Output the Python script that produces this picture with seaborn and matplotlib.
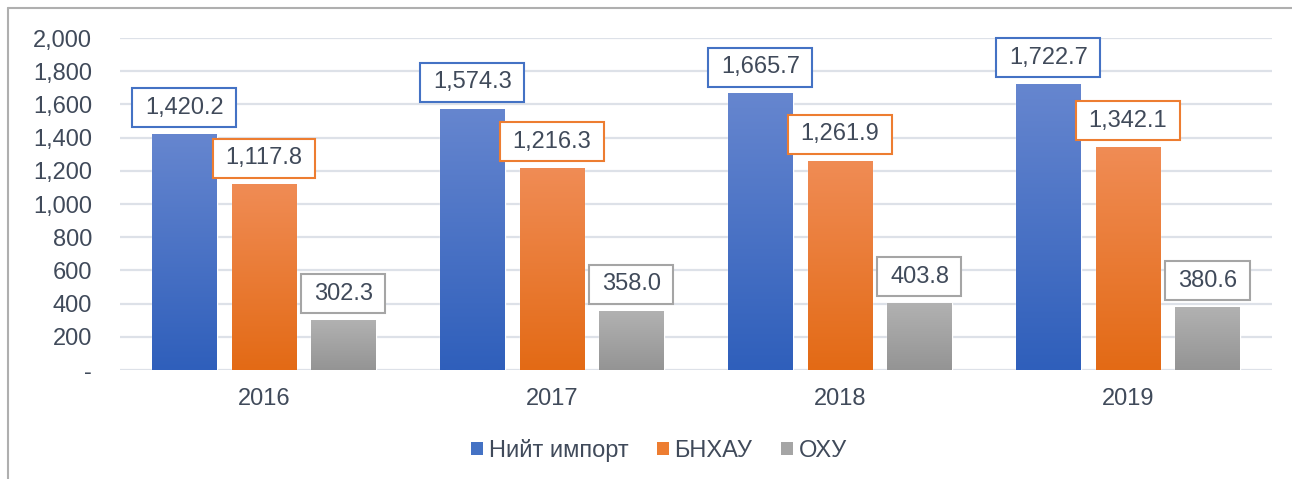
import numpy as np
import pandas as pd
import matplotlib
matplotlib.use("Agg")
import matplotlib.pyplot as plt
from matplotlib.path import Path
from matplotlib.lines import Line2D
from matplotlib.patches import Patch
from matplotlib.colors import LinearSegmentedColormap
import seaborn as sns

# Data
years = ["2016", "2017", "2018", "2019"]
series = ["Нийт импорт", "БНХАУ", "ОХУ"]
total_import = [1420.2, 1574.3, 1665.7, 1722.7]
china = [1117.8, 1216.3, 1261.9, 1342.1]
russia = [302.3, 358.0, 403.8, 380.6]

base_colors = ["#4472C4", "#ED7D31", "#A5A5A5"]
grad_top = ["#6686CF", "#F08C55", "#B2B2B2"]
grad_bot = ["#2F5FBB", "#E36A15", "#949494"]
text_color = "#404A5A"
fs = 17

df = pd.DataFrame({
    "Он": years * 3,
    "Цуврал": [s for s in series for _ in years],
    "Утга": total_import + china + russia,
})

sns.set_theme(style="white")
plt.rcParams["font.family"] = ["Liberation Sans", "DejaVu Sans"]

fig = plt.figure(figsize=(12.92, 4.79), dpi=100)
ax = fig.add_axes([120 / 1292, 1 - 370 / 479, 1152 / 1292, 332 / 479])

sns.barplot(data=df, x="Он", y="Утга", hue="Цуврал", palette=base_colors,
            width=0.83, gap=0.19, ax=ax, legend=False, zorder=3)

ax.set_yticks(np.arange(0, 2001, 200))
ax.yaxis.set_major_formatter(
    plt.FuncFormatter(lambda v, p: "-" if v == 0 else f"{v:,.0f}"))
ax.grid(axis="y", color="#DDE1E8", linewidth=1.6, zorder=0)
ax.set_axisbelow(True)
for sp in ax.spines.values():
    sp.set_visible(False)
ax.tick_params(axis="y", length=0, pad=20, labelsize=fs, labelcolor=text_color)
ax.tick_params(axis="x", length=0, pad=13, labelsize=fs, labelcolor=text_color)
ax.set_xlabel("")
ax.set_ylabel("")


# box with separate horizontal/vertical pads
def label_box(x0, y0, width, height, mutation_size):
    l, r, v = 0.55 * mutation_size, 0.52 * mutation_size, 0.36 * mutation_size
    x1, y1 = x0 - l, y0 - v
    x2, y2 = x0 + width + r, y0 + height + v
    return Path([(x1, y1), (x2, y1), (x2, y2), (x1, y2), (x1, y1)], closed=True)


# gradient fill + labels
grad = np.linspace(1, 0, 256).reshape(-1, 1)
for i, cont in enumerate(ax.containers):
    cmap = LinearSegmentedColormap.from_list("g", [grad_bot[i], grad_top[i]])
    for bar in cont:
        x0, y0 = bar.get_x(), bar.get_y()
        w, h = bar.get_width(), bar.get_height()
        im = ax.imshow(grad, cmap=cmap, extent=[x0, x0 + w, y0, y0 + h],
                       aspect="auto", zorder=4, vmin=0, vmax=1)
        im.set_clip_path(bar)
    ax.bar_label(cont, labels=[f"{v:,.1f}" for v in cont.datavalues],
                 padding=11, fontsize=fs, color=text_color, zorder=6,
                 bbox=dict(boxstyle=label_box, facecolor="white",
                           edgecolor=base_colors[i], linewidth=1.5))

ax.set_ylim(0, 2000)
ax.set_xlim(-0.5, 3.5)

handles = [Patch(facecolor=c, edgecolor="none") for c in base_colors]
fig.legend(handles, series, loc="center", bbox_to_anchor=(0.51, 0.06),
           ncol=3, frameon=False, fontsize=fs, labelcolor=text_color,
           handlelength=0.5, handleheight=0.5, handletextpad=0.25,
           columnspacing=1.2)

# outer chart border (top and left visible)
fig.add_artist(Line2D([8 / 1292, 8 / 1292], [0, 1 - 8 / 479],
                      transform=fig.transFigure, color="#AFAFAF", linewidth=1.5))
fig.add_artist(Line2D([8 / 1292, 1], [1 - 8 / 479, 1 - 8 / 479],
                      transform=fig.transFigure, color="#AFAFAF", linewidth=1.5))

fig.savefig("out.png", dpi=100)
